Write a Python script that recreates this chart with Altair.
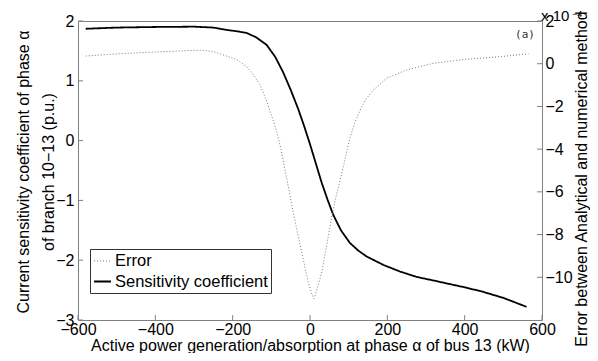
import altair as alt
import pandas as pd

# ---------------- data ----------------
sens_x = [-580, -500, -400, -300, -250, -215, -190, -164, -140, -112, -90, -70, -50,
          -30, -15, 0, 15, 30, 45, 60, 80, 103, 125, 147, 190, 233, 276, 320, 362,
          405, 448, 500, 560]
sens_v = [1.87, 1.89, 1.90, 1.905, 1.89, 1.85, 1.83, 1.80, 1.73, 1.60, 1.40, 1.15, 0.85,
          0.52, 0.24, -0.06, -0.38, -0.70, -0.98, -1.24, -1.50, -1.71, -1.84, -1.94, -2.08,
          -2.19, -2.28, -2.34, -2.40, -2.46, -2.53, -2.63, -2.78]

err_x = [-580, -500, -400, -320, -280, -250, -215, -190, -165, -145, -129, -112, -98, -86,
         -75, -65, -55, -43, -30, -17, -5, 5, 10, 15, 22, 30, 43, 56, 67, 78, 86, 95, 103,
         115, 129, 145, 164, 198, 250, 319, 405, 491, 565]
err_v = [0.36, 0.46, 0.55, 0.61, 0.63, 0.57, 0.35, 0.20, -0.12, -0.55, -1.00, -1.75, -2.50,
         -3.18, -4.00, -4.95, -5.85, -7.00, -8.10, -9.20, -10.20, -10.80, -11.00, -10.75,
         -10.30, -9.80, -8.50, -7.20, -6.25, -5.45, -4.85, -4.10, -3.50, -2.80, -2.20,
         -1.65, -1.23, -0.68, -0.29, 0.02, 0.21, 0.33, 0.46]

series_names = ["Error", "Sensitivity coefficient"]
x_ticks = [-600, -400, -200, 0, 200, 400, 600]
left_ticks = [-3, -2, -1, 0, 1, 2]
right_ticks = [-10, -8, -6, -4, -2, 0, 2]

x_title = "Active power generation/absorption at phase \u03b1 of bus 13 (kW)"
left_title = ["Current sensitivity coefficient of phase  \u03b1", "of branch 10\u221213 (p.u.)"]
right_title = "Error between Analytical and numerical method"

W, H = 464, 299
FONT = "Liberation Sans"
GRAY = "#808080"

sens_df = pd.DataFrame({"p": sens_x, "v": sens_v, "series": series_names[1]})
err_df = pd.DataFrame({"p": err_x, "e": err_v, "series": series_names[0]})
xt_df = pd.DataFrame({"p": x_ticks})
lt_df = pd.DataFrame({"v": left_ticks})
rt_df = pd.DataFrame({"e": right_ticks})

xscale = alt.Scale(domain=[-600, 600], nice=False, zero=False)
lscale = alt.Scale(domain=[-3, 2], nice=False, zero=False)
rscale = alt.Scale(domain=[-12, 2], nice=False, zero=False)

color = alt.Color("series:N", scale=alt.Scale(domain=series_names, range=["#7a7a7a", "black"]),
                  legend=alt.Legend(title=None))
dash = alt.StrokeDash("series:N", scale=alt.Scale(domain=series_names, range=[[1, 2], [1, 0]]),
                      legend=alt.Legend(title=None))
swidth = alt.StrokeWidth("series:N", scale=alt.Scale(domain=series_names, range=[1, 1.8]),
                         legend=alt.Legend(title=None))

xaxis = alt.Axis(values=x_ticks, title=x_title, orient="bottom", tickSize=0, labelPadding=1,
                 titleX=W / 2, titleY=30, titleBaseline="alphabetic", titleAlign="center")
laxis = alt.Axis(orient="left", values=left_ticks, title=left_title, tickSize=0,
                 labelPadding=4, titleAngle=270, titleX=-55, titleY=H / 2 + 1,
                 titleAlign="center", titleBaseline="middle", titleLineHeight=25)
raxis = alt.Axis(orient="right", values=right_ticks, title=right_title, tickSize=0,
                 labelPadding=3, titleAngle=270, titleX=39, titleY=H / 2 + 8,
                 titleAlign="center", titleBaseline="middle")

sens_line = alt.Chart(sens_df).mark_line().encode(
    x=alt.X("p:Q", scale=xscale, axis=xaxis),
    y=alt.Y("v:Q", scale=lscale, axis=laxis),
    color=color, strokeDash=dash, strokeWidth=swidth,
)

left_tick_marks = alt.Chart(lt_df).mark_rule(color=GRAY, strokeWidth=1).encode(
    y=alt.Y("v:Q", scale=lscale, axis=laxis),
    x=alt.value(0), x2=alt.value(5),
)
bottom_tick_marks = alt.Chart(xt_df).mark_rule(color=GRAY, strokeWidth=1).encode(
    x=alt.X("p:Q", scale=xscale, axis=xaxis),
    y=alt.value(H), y2=alt.value(H - 5),
)

left_group = alt.layer(sens_line, left_tick_marks, bottom_tick_marks)

err_line = alt.Chart(err_df).mark_line().encode(
    x=alt.X("p:Q", scale=xscale, axis=xaxis),
    y=alt.Y("e:Q", scale=rscale, axis=raxis),
    color=color, strokeDash=dash, strokeWidth=swidth,
)
right_tick_marks = alt.Chart(rt_df).mark_rule(color=GRAY, strokeWidth=1).encode(
    y=alt.Y("e:Q", scale=rscale, axis=raxis),
    x=alt.value(W - 5), x2=alt.value(W),
)

one = alt.Data(values=[{"k": 1}])
exp_text = alt.Chart(one).mark_text(font=FONT, fontSize=15, align="left", baseline="alphabetic",
                                    color="black").encode(
    x=alt.value(W - 1), y=alt.value(0), text=alt.value("x 10"))
exp_sup = alt.Chart(one).mark_text(font=FONT, fontSize=9, align="left", baseline="alphabetic",
                                   color="black").encode(
    x=alt.value(W + 30), y=alt.value(-4), text=alt.value("\u22124"))
panel_tag = alt.Chart(one).mark_text(font="DejaVu Sans Mono", fontSize=11, align="center",
                                     baseline="middle", color="#333333").encode(
    x=alt.value(W - 17), y=alt.value(14), text=alt.value("(a)"))

right_group = alt.layer(err_line, right_tick_marks, exp_text, exp_sup, panel_tag)

chart = alt.layer(left_group, right_group).resolve_scale(y="independent").properties(
    width=W, height=H,
    autosize=alt.AutoSizeParams(type="none"),
    padding={"left": 70, "top": 13, "right": 48, "bottom": 33},
).configure_view(
    stroke=GRAY, strokeWidth=1
).configure_axis(
    domain=False, grid=False, labelFont=FONT, titleFont=FONT, labelFontSize=16,
    titleFontSize=16, titleFontWeight="normal", labelColor="black", titleColor="black",
    labelFlush=False, labelOverlap=False,
).configure_legend(
    orient="none", legendX=12, legendY=228, labelFont=FONT, labelFontSize=16.5,
    labelColor="black", symbolType="stroke", symbolSize=289, strokeColor="#333333",
    fillColor="white", padding=3, rowPadding=2, labelOffset=3, labelLimit=300,
    symbolStrokeColor="black",
)

chart.save("out.html", embed_options={"renderer": "svg", "actions": False})
